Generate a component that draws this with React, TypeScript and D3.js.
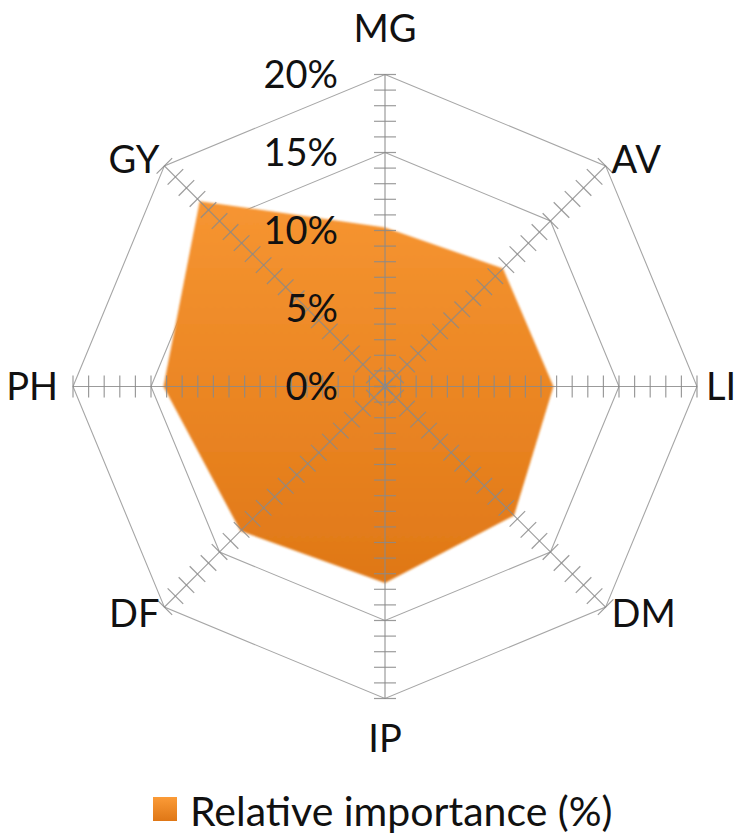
import React, { useEffect, useRef } from "react";
import * as d3 from "d3";

// Radar chart: relative importance of each trait (%)
const categories = ["MG", "AV", "LI", "DM", "IP", "DF", "PH", "GY"];
const importance = [10.2, 10.7, 10.8, 11.7, 12.6, 13.1, 14.2, 16.8];
const gridValues = [5, 10, 15, 20];
const tickLabelValues = [0, 5, 10, 15, 20];
const tickLabels = ["0%", "5%", "10%", "15%", "20%"];
const legendLabel = "Relative importance (%)";

const W = 738;
const H = 838;
const CX = 385;
const CY = 386.5;
const R = 312;
const FONT = "Lato, 'Open Sans', sans-serif";

export default function App() {
  const ref = useRef<SVGSVGElement>(null);

  useEffect(() => {
    const svg = d3.select(ref.current);
    svg.selectAll("*").remove();

    const r = d3.scaleLinear().domain([0, 20]).range([0, R]);
    const angle = d3
      .scaleLinear()
      .domain([0, categories.length])
      .range([0, 2 * Math.PI]);
    const pt = (i: number, v: number): [number, number] => {
      const a = angle(i);
      return [CX + r(v) * Math.sin(a), CY - r(v) * Math.cos(a)];
    };

    const defs = svg.append("defs");
    const grad = defs
      .append("linearGradient")
      .attr("id", "fillGrad")
      .attr("gradientUnits", "userSpaceOnUse")
      .attr("x1", 0)
      .attr("y1", CY - r(17))
      .attr("x2", 0)
      .attr("y2", CY + r(13));
    grad.append("stop").attr("offset", "0%").attr("stop-color", "#fb9b37");
    grad.append("stop").attr("offset", "100%").attr("stop-color", "#df7716");

    const legGrad = defs
      .append("linearGradient")
      .attr("id", "legGrad")
      .attr("x1", 0)
      .attr("y1", 0)
      .attr("x2", 0)
      .attr("y2", 1);
    legGrad.append("stop").attr("offset", "0%").attr("stop-color", "#fb9b37");
    legGrad.append("stop").attr("offset", "100%").attr("stop-color", "#df7716");

    defs
      .append("filter")
      .attr("id", "soft")
      .attr("x", "-10%")
      .attr("y", "-10%")
      .attr("width", "120%")
      .attr("height", "120%")
      .append("feGaussianBlur")
      .attr("stdDeviation", 1.1);

    const line = d3.line<[number, number]>().curve(d3.curveLinearClosed);

    // octagonal gridlines
    svg
      .append("g")
      .selectAll("path")
      .data(gridValues)
      .join("path")
      .attr("d", (v) => line(categories.map((_, i) => pt(i, v))))
      .attr("fill", "none")
      .attr("stroke", "#a6a6a6")
      .attr("stroke-width", 1.1);

    // series area
    svg
      .append("path")
      .attr("d", line(importance.map((v, i) => pt(i, v))))
      .attr("fill", "url(#fillGrad)")
      .attr("filter", "url(#soft)");

    // spokes with minor ticks every 1%
    const spokes = svg.append("g").attr("stroke", "#8a8a8a").attr("stroke-opacity", 0.85);
    const tickVals = d3.range(0, 21, 1);
    categories.forEach((_, i) => {
      const [x2, y2] = pt(i, 20);
      spokes
        .append("line")
        .attr("x1", CX)
        .attr("y1", CY)
        .attr("x2", x2)
        .attr("y2", y2)
        .attr("stroke-width", 1.2);
      const a = angle(i);
      const px = Math.cos(a);
      const py = Math.sin(a);
      spokes
        .append("g")
        .selectAll("line")
        .data(tickVals)
        .join("line")
        .attr("x1", (v) => pt(i, v)[0] - 11 * px)
        .attr("y1", (v) => pt(i, v)[1] - 11 * py)
        .attr("x2", (v) => pt(i, v)[0] + 11 * px)
        .attr("y2", (v) => pt(i, v)[1] + 11 * py)
        .attr("stroke-width", 1.2);
    });

    // value labels along the top spoke
    svg
      .append("g")
      .selectAll("text")
      .data(tickLabelValues)
      .join("text")
      .attr("x", 338)
      .attr("y", (v) => CY - r(v))
      .attr("dy", "0.36em")
      .attr("text-anchor", "end")
      .attr("font-family", FONT)
      .attr("font-size", 38)
      .attr("fill", "#111")
      .text((_, k) => tickLabels[k]);

    // category labels
    const catG = svg.append("g").attr("font-family", FONT).attr("font-size", 38).attr("fill", "#111");
    categories.forEach((c, i) => {
      const [ex, ey] = pt(i, 20);
      const a = angle(i);
      const s = Math.sin(a);
      const co = Math.cos(a);
      let x = ex;
      let y = ey;
      let anchor = "middle";
      if (Math.abs(s) < 1e-6) {
        y = co > 0 ? ey - 46 : ey + 40;
      } else if (Math.abs(co) < 1e-6) {
        anchor = s > 0 ? "start" : "end";
        x = ex + (s > 0 ? 9 : -15);
      } else {
        anchor = s > 0 ? "start" : "end";
        x = ex + (s > 0 ? 6 : -5);
        y = co > 0 ? ey - 7 : ey + 6;
      }
      catG
        .append("text")
        .attr("x", x)
        .attr("y", y)
        .attr("dy", "0.36em")
        .attr("text-anchor", anchor)
        .text(c);
    });

    // legend
    const leg = svg.append("g");
    leg
      .append("rect")
      .attr("x", 153)
      .attr("y", 797)
      .attr("width", 24)
      .attr("height", 24)
      .attr("fill", "url(#legGrad)");
    leg
      .append("text")
      .attr("x", 190)
      .attr("y", 826)
      .attr("font-family", FONT)
      .attr("font-size", 41)
      .attr("fill", "#111")
      .text(legendLabel);
  }, []);

  return (
    <svg
      ref={ref}
      width={W}
      height={H}
      style={{ position: "absolute", left: 0, top: 0, background: "#fff" }}
    />
  );
}
